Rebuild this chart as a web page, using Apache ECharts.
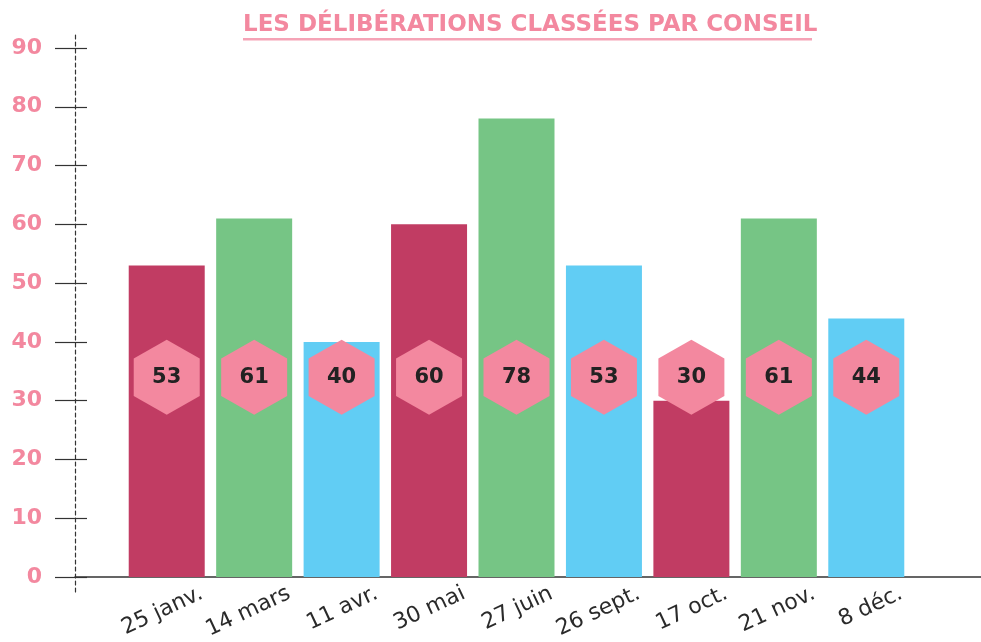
<!DOCTYPE html>
<html>
<head>
<meta charset="utf-8">
<script src="https://cdn.jsdelivr.net/npm/echarts@6/dist/echarts.min.js"></script>
<style>
  html, body { margin: 0; padding: 0; background: #ffffff; }
  #chart { width: 981px; height: 642px; }
</style>
</head>
<body>
<div id="chart"></div>
<script>
// Dates des conseils et nombre de délibérations
const categories = ['25 janv.', '14 mars', '11 avr.', '30 mai', '27 juin', '26 sept.', '17 oct.', '21 nov.', '8 déc.'];
const deliberations = [53, 61, 40, 60, 78, 53, 30, 61, 44];
const barColors = ['#c13c63', '#76c585', '#61cdf4', '#c13c63', '#76c585', '#61cdf4', '#c13c63', '#76c585', '#61cdf4'];
const yTicks = [0, 10, 20, 30, 40, 50, 60, 70, 80, 90];

const TITLE = 'LES DÉLIBÉRATIONS CLASSÉES PAR CONSEIL';
const PINK = '#f3889f';
const BADGE_LEVEL = 34;          // hauteur des pastilles hexagonales
const FONT = '"DejaVu Sans", "Noto Sans", sans-serif';

const hexagon = 'path://M0,-1 L0.866,-0.5 L0.866,0.5 L0,1 L-0.866,0.5 L-0.866,-0.5 Z';

const chart = echarts.init(document.getElementById('chart'), null, { renderer: 'canvas' });

const yMin = yTicks[0], yMax = yTicks[yTicks.length - 1], yStep = yTicks[1] - yTicks[0];

chart.setOption({
  animation: false,
  backgroundColor: '#ffffff',
  title: {
    text: TITLE,
    left: 243,
    top: 14,
    padding: 0,
    textStyle: { color: PINK, fontFamily: FONT, fontWeight: 'bold', fontSize: 23 }
  },
  grid: [
    // barres
    { left: 123, right: 71, top: 48, bottom: 65 },
    // axe vertical + ligne de base
    { left: 75, right: 0, top: 48, bottom: 65 },
    // libellés des dates
    { left: 158, right: 36, top: 48, bottom: 65 },
    // prolongement pointillé de l'axe vertical
    { left: 75, right: 0, top: 33, bottom: 50 }
  ],
  xAxis: [
    { gridIndex: 0, type: 'category', data: categories, show: false },
    {
      gridIndex: 1, type: 'value', min: 0, max: 1,
      axisLine: { show: true, onZero: false, lineStyle: { color: '#333333', width: 1.5 } },
      axisTick: { show: false }, axisLabel: { show: false }, splitLine: { show: false }
    },
    {
      gridIndex: 2, type: 'category', data: categories,
      axisLine: { show: false }, axisTick: { show: false }, splitLine: { show: false },
      axisLabel: {
        rotate: 25, margin: 19, interval: 0,
        color: '#2a2a2a', fontFamily: FONT, fontSize: 22
      }
    },
    { gridIndex: 3, type: 'value', min: 0, max: 1, show: false }
  ],
  yAxis: [
    { gridIndex: 0, type: 'value', min: yMin, max: yMax, interval: yStep, show: false },
    {
      gridIndex: 1, type: 'value', min: yMin, max: yMax, interval: yStep,
      axisLine: { show: false },
      axisTick: { show: true, inside: false, length: 20, lineStyle: { color: '#333333', width: 1.2 } },
      axisLabel: {
        margin: 33, color: PINK, fontFamily: FONT, fontWeight: 'bold', fontSize: 22
      },
      splitLine: { show: false }
    },
    {
      gridIndex: 1, type: 'value', min: yMin, max: yMax, interval: yStep, position: 'left',
      axisLine: { show: false },
      axisTick: { show: true, inside: true, length: 12, lineStyle: { color: '#333333', width: 1.2 } },
      axisLabel: { show: false },
      splitLine: { show: false }
    },
    { gridIndex: 2, type: 'value', min: yMin, max: yMax, show: false },
    {
      gridIndex: 3, type: 'value', min: 0, max: 1,
      axisLine: { show: true, lineStyle: { color: '#333333', width: 1.2, type: [4, 3] } },
      axisTick: { show: false }, axisLabel: { show: false }, splitLine: { show: false }
    }
  ],
  series: [
    {
      type: 'bar',
      xAxisIndex: 0, yAxisIndex: 0,
      barWidth: 76,
      data: deliberations.map((v, i) => ({ value: v, itemStyle: { color: barColors[i] } }))
    },
    {
      type: 'scatter',
      xAxisIndex: 0, yAxisIndex: 0,
      symbol: hexagon,
      symbolSize: [66, 75],
      symbolKeepAspect: false,
      itemStyle: { color: PINK, opacity: 1 },
      z: 5,
      label: {
        show: true,
        position: 'inside',
        formatter: p => String(deliberations[p.dataIndex]),
        color: '#222222',
        fontFamily: FONT,
        fontWeight: 'bold',
        fontSize: 21
      },
      data: deliberations.map((v, i) => [i, BADGE_LEVEL])
    }
  ],
  graphic: [
    {
      type: 'rect',
      left: 243,
      top: 38,
      shape: { width: 569, height: 2.5 },
      style: { fill: '#f5a3b6' }
    }
  ]
});
</script>
</body>
</html>
